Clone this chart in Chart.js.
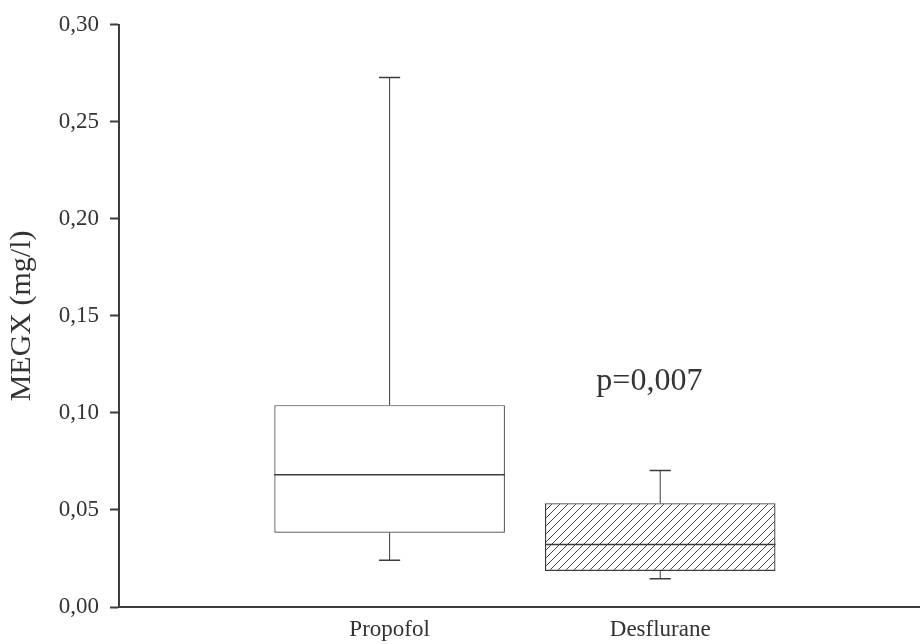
<!DOCTYPE html>
<html>
<head>
<meta charset="utf-8">
<script src="https://cdn.jsdelivr.net/npm/chart.js@4.4.1/dist/chart.umd.min.js"></script>
<style>
  html, body { margin: 0; padding: 0; background: #fff; }
  #wrap { width: 920px; height: 644px; }
</style>
</head>
<body>
<div id="wrap"><canvas id="megxChart"></canvas></div>
<script>
const categories = ['Propofol', 'Desflurane'];
const maxVals = [0.2728, 0.0704];
const q3Vals = [0.1040, 0.0535];
const medianVals = [0.0681, 0.0322];
const q1Vals = [0.0383, 0.0186];
const minVals = [0.0241, 0.0145];
const yTicks = [0, 0.05, 0.10, 0.15, 0.20, 0.25, 0.30];
const pLabel = 'p=0,007';

const serif = '"Liberation Serif", "Times New Roman", serif';
const ink = '#3c3c3c';

// diagonal hatch for the second box
function hatch() {
  const c = document.createElement('canvas');
  c.width = 8; c.height = 8;
  const g = c.getContext('2d');
  g.strokeStyle = '#444';
  g.lineWidth = 1;
  g.beginPath();
  g.moveTo(0, 8); g.lineTo(8, 0);
  g.moveTo(-2, 2); g.lineTo(2, -2);
  g.moveTo(6, 10); g.lineTo(10, 6);
  g.stroke();
  return g.createPattern(c, 'repeat');
}

const whiskers = {
  id: 'whiskers',
  afterDatasetsDraw(chart) {
    const {ctx, scales: {x, y}} = chart;
    const half = 0.426, cap = 0.039;
    ctx.save();
    ctx.strokeStyle = ink;
    categories.forEach((c, i) => {
      const cx = x.getPixelForValue(i + 1);
      ctx.lineWidth = 1;
      ctx.beginPath();
      ctx.moveTo(cx, y.getPixelForValue(q3Vals[i]));
      ctx.lineTo(cx, y.getPixelForValue(maxVals[i]));
      ctx.moveTo(cx, y.getPixelForValue(q1Vals[i]));
      ctx.lineTo(cx, y.getPixelForValue(minVals[i]));
      ctx.stroke();
      ctx.lineWidth = 1.5;
      ctx.beginPath();
      [maxVals[i], minVals[i]].forEach(v => {
        ctx.moveTo(x.getPixelForValue(i + 1 - cap), y.getPixelForValue(v));
        ctx.lineTo(x.getPixelForValue(i + 1 + cap), y.getPixelForValue(v));
      });
      ctx.stroke();
      ctx.beginPath();
      ctx.moveTo(x.getPixelForValue(i + 1 - half), y.getPixelForValue(medianVals[i]));
      ctx.lineTo(x.getPixelForValue(i + 1 + half), y.getPixelForValue(medianVals[i]));
      ctx.stroke();
    });
    ctx.fillStyle = '#333';
    ctx.font = '32px ' + serif;
    ctx.textAlign = 'center';
    ctx.textBaseline = 'alphabetic';
    ctx.fillText(pLabel, x.getPixelForValue(1.96), y.getPixelForValue(0.112));
    ctx.restore();
  }
};

const megxChart = document.getElementById('megxChart');
new Chart(megxChart, {
  type: 'bar',
  data: {
    datasets: [{
      data: categories.map((c, i) => ({x: i + 1, y: [q1Vals[i], q3Vals[i]]})),
      backgroundColor: ['#ffffff', hatch()],
      borderColor: ink,
      borderWidth: 1.2,
      borderSkipped: false,
      barPercentage: 1,
      categoryPercentage: 0.852
    }]
  },
  options: {
    responsive: true,
    maintainAspectRatio: false,
    animation: false,
    layout: { padding: { top: 22, right: 0, bottom: 0, left: 0 } },
    scales: {
      x: {
        type: 'linear',
        offset: false,
        min: 0,
        max: 2.96,
        afterBuildTicks: (axis) => { axis.ticks = categories.map((c, i) => ({value: i + 1})); },
        afterFit: (axis) => { axis.height = 37; },
        grid: { display: false, drawTicks: false },
        border: { display: true, color: ink, width: 2 },
        ticks: {
          padding: 9,
          color: '#333',
          font: { family: serif, size: 23 },
          maxRotation: 0,
          callback: (v) => categories[v - 1] ?? ''
        }
      },
      y: {
        min: 0,
        max: 0.30,
        afterBuildTicks: (axis) => { axis.ticks = yTicks.map(v => ({value: v})); },
        afterFit: (axis) => { axis.width = 119; },
        grid: { drawOnChartArea: false, drawTicks: true, tickLength: 9, tickColor: ink, tickWidth: 2 },
        border: { display: true, color: ink, width: 2 },
        ticks: {
          padding: 11,
          color: '#333',
          font: { family: serif, size: 23 },
          callback: (v) => v.toFixed(2).replace('.', ',')
        },
        title: {
          display: true,
          text: 'MEGX (mg/l)',
          color: '#333',
          font: { family: serif, size: 30 },
          padding: { top: 4, bottom: 0 }
        }
      }
    },
    plugins: {
      tooltip: { enabled: false },
      legend: { display: false }
    }
  },
  plugins: [whiskers]
});
</script>
</body>
</html>
